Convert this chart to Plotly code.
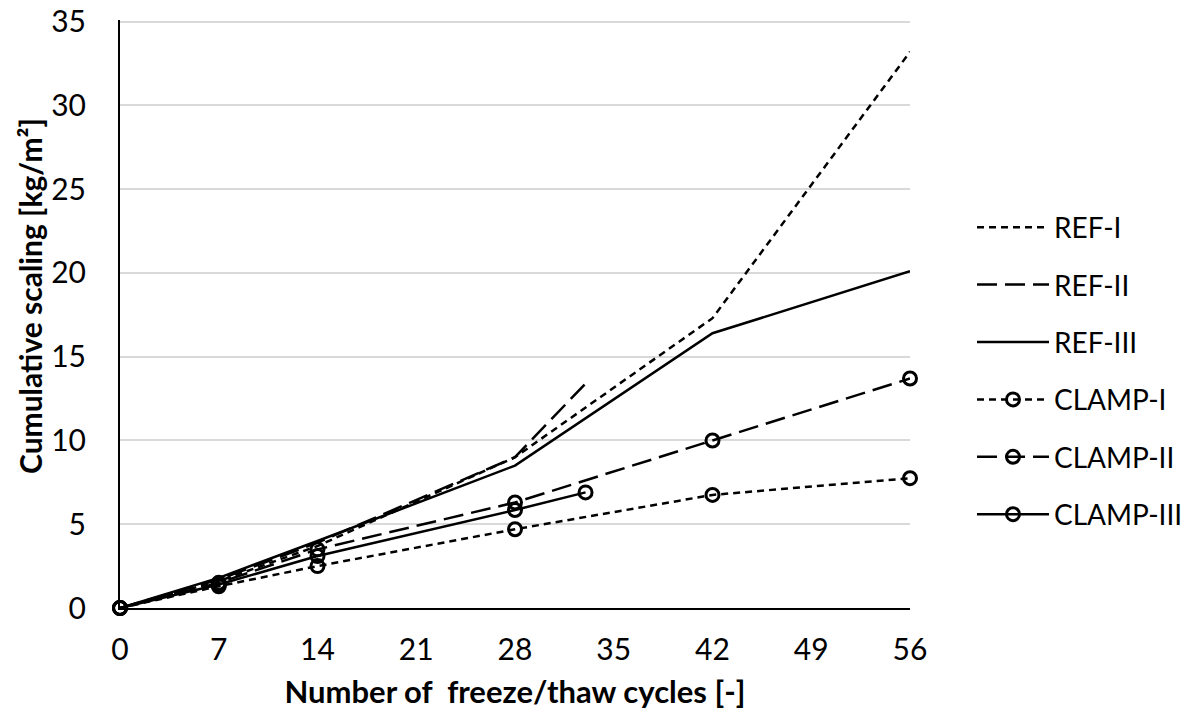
import plotly.graph_objects as go

cycles_ref1 = [0, 7, 14, 28, 42, 56]
ref1 = [0, 1.6, 3.7, 9.0, 17.3, 33.2]
cycles_ref2 = [0, 7, 14, 28, 33]
ref2 = [0, 1.7, 3.9, 9.0, 13.4]
cycles_ref3 = [0, 7, 14, 28, 42, 56]
ref3 = [0, 1.8, 4.0, 8.5, 16.4, 20.1]
cycles_c1 = [0, 7, 14, 28, 42, 56]
clamp1 = [0, 1.3, 2.5, 4.7, 6.75, 7.75]
cycles_c2 = [0, 7, 14, 28, 42, 56]
clamp2 = [0, 1.5, 3.5, 6.3, 10.0, 13.7]
cycles_c3 = [0, 7, 14, 28, 33]
clamp3 = [0, 1.4, 3.1, 5.85, 6.9]

x_ticks = [0, 7, 14, 21, 28, 35, 42, 49, 56]
y_ticks = [0, 5, 10, 15, 20, 25, 30, 35]

FONT = "Lato, 'Open Sans', sans-serif"
short_dash = "7px,5px"
long_dash = "20px,8px"

series = [
    ("REF-I", cycles_ref1, ref1, short_dash, False),
    ("REF-II", cycles_ref2, ref2, long_dash, False),
    ("REF-III", cycles_ref3, ref3, "solid", False),
    ("CLAMP-I", cycles_c1, clamp1, short_dash, True),
    ("CLAMP-II", cycles_c2, clamp2, long_dash, True),
    ("CLAMP-III", cycles_c3, clamp3, "solid", True),
]

fig = go.Figure()
for i, (name, xs, ys, dash, mk) in enumerate(series):
    fig.add_trace(go.Scatter(
        x=xs, y=ys, name=name,
        mode="lines+markers" if mk else "lines",
        line=dict(color="black", width=2.5, dash=dash),
        marker=dict(symbol="circle-open", size=13, color="black",
                    line=dict(width=3, color="black")),
        legendgroup=f"g{i}",
        cliponaxis=False,
    ))

W, H = 1191, 720
L, T = 120, 20
PW, PH = 790, 588
fig.update_layout(
    width=W, height=H,
    paper_bgcolor="white", plot_bgcolor="white",
    margin=dict(l=L, r=W - L - PW, t=T, b=H - T - PH, autoexpand=False),
    font=dict(family=FONT, size=30, color="black"),
    showlegend=True,
    legend=dict(x=1.0 + (972 - L - PW) / PW, y=1 - (371 - T) / PH,
                xanchor="left", yanchor="middle",
                font=dict(size=28, family=FONT), tracegroupgap=18,
                bgcolor="rgba(0,0,0,0)", itemwidth=72),
    xaxis=dict(range=[0, 56], tickvals=x_ticks, ticktext=[str(v) for v in x_ticks],
               showgrid=False, zeroline=False, showline=True, linecolor="black",
               linewidth=2, ticks="", tickfont=dict(size=30), automargin=False,
               ticklabelstandoff=14,
               title=dict(text="<b>Number of  freeze/thaw cycles [-]</b>",
                          font=dict(size=31), standoff=16)),
    yaxis=dict(range=[0, 35.1], tickvals=y_ticks, ticktext=[str(v) for v in y_ticks],
               showgrid=True, gridcolor="#d9d9d9", gridwidth=1.5, zeroline=False,
               showline=True, linecolor="black", linewidth=2, ticks="",
               tickfont=dict(size=30), automargin=False, ticklabelstandoff=26,
               ticklabeloverflow="allow"),
    annotations=[dict(text="<b>Cumulative scaling [kg/m²]</b>", textangle=-90,
                      xref="paper", yref="paper",
                      x=(30 - L) / PW, y=1 - (296 - T) / PH,
                      xanchor="center", yanchor="middle", showarrow=False,
                      font=dict(size=30, family=FONT, color="black"))],
)

fig.write_html("out.html", config={"displayModeBar": False},
               post_script="document.body.style.margin='0';document.body.style.overflow='hidden';")
